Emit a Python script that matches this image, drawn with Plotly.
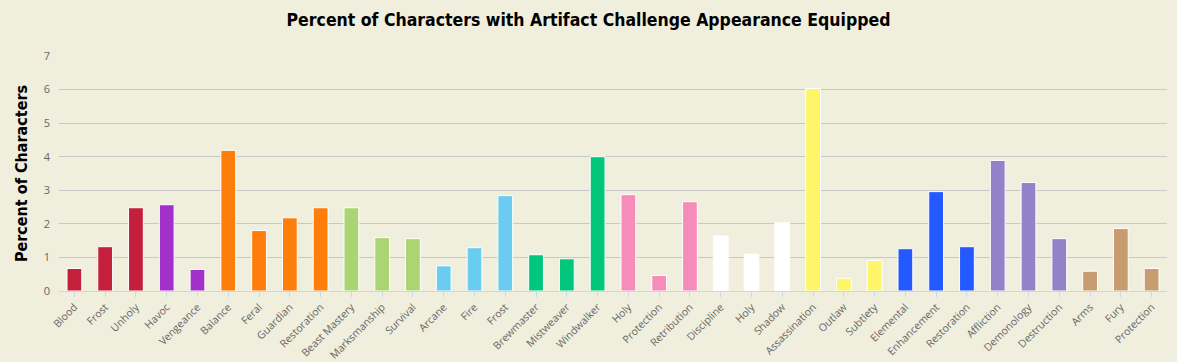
import plotly.graph_objects as go

specs = ["Blood", "Frost", "Unholy", "Havoc", "Vengeance", "Balance", "Feral", "Guardian",
         "Restoration", "Beast Mastery", "Marksmanship", "Survival", "Arcane", "Fire", "Frost",
         "Brewmaster", "Mistweaver", "Windwalker", "Holy", "Protection", "Retribution",
         "Discipline", "Holy", "Shadow", "Assassination", "Outlaw", "Subtlety", "Elemental",
         "Enhancement", "Restoration", "Affliction", "Demonology", "Destruction", "Arms",
         "Fury", "Protection"]
values = [0.67, 1.32, 2.48, 2.57, 0.64, 4.19, 1.80, 2.18, 2.48, 2.48, 1.59, 1.56, 0.75, 1.29,
          2.84, 1.08, 0.96, 4.00, 2.87, 0.46, 2.66, 1.64, 1.10, 2.03, 6.03, 0.38, 0.91, 1.26,
          2.96, 1.32, 3.89, 3.23, 1.56, 0.59, 1.86, 0.67]
classes = ["DK"] * 3 + ["DH"] * 2 + ["Druid"] * 4 + ["Hunter"] * 3 + ["Mage"] * 3 + \
          ["Monk"] * 3 + ["Paladin"] * 3 + ["Priest"] * 3 + ["Rogue"] * 3 + ["Shaman"] * 3 + \
          ["Warlock"] * 3 + ["Warrior"] * 3
class_colors = {"DK": "#C41F3B", "DH": "#A330C9", "Druid": "#FF7D0A", "Hunter": "#ABD473",
                "Mage": "#69CCF0", "Monk": "#00C77B", "Paladin": "#F58CBA", "Priest": "#FFFFFF",
                "Rogue": "#FFF569", "Shaman": "#2459FF", "Warlock": "#9482C9", "Warrior": "#C79C6E"}

x_idx = list(range(len(specs)))
colors = [class_colors[c] for c in classes]

fig = go.Figure(go.Bar(
    x=x_idx, y=values, marker=dict(color=colors, line=dict(color="#FFFFFF", width=1)),
    width=0.48, hovertemplate="%{customdata}: %{y}<extra></extra>", customdata=specs,
))

font_fam = "Open Sans, DejaVu Sans, sans-serif"
fig.update_layout(
    width=1177, height=362,
    paper_bgcolor="#F0EEDC", plot_bgcolor="#F0EEDC",
    margin=dict(l=59, r=10, t=56, b=71, autoexpand=False),
    title=dict(text="<b>Percent of Characters with Artifact Challenge Appearance Equipped</b>",
               x=0.5, xanchor="center", xref="container", y=0.945, yanchor="middle", yref="container",
               font=dict(family="DejaVu Sans Condensed, DejaVu Sans, sans-serif", size=17.5, color="#000000")),
    showlegend=False,
    bargap=0.52,
)
fig.update_xaxes(
    tickmode="array", tickvals=x_idx, ticktext=specs, tickangle=-45,
    range=[-0.5, len(specs) - 0.5], automargin=False,
    tickfont=dict(family=font_fam, size=10.5, color="#666666"),
    showline=True, linecolor="#CCD6EB", linewidth=1,
    ticks="outside", tickcolor="#CCD6EB", ticklen=5,
    showgrid=False, zeroline=False,
)
fig.update_yaxes(
    range=[0, 7], dtick=1, automargin=False,
    tickfont=dict(family=font_fam, size=11, color="#666666"),
    showgrid=True, gridcolor="#C8C8C8", gridwidth=1, zeroline=False,
    title=dict(text="<b>Percent of Characters</b>",
               font=dict(family="DejaVu Sans Condensed, DejaVu Sans, sans-serif", size=16, color="#000000"),
               standoff=12),
    ticklabelstandoff=8,
)

fig.write_html("out.html", config={"displayModeBar": False},
               post_script="document.body.style.margin='0';document.body.style.background='#F0EEDC';")
